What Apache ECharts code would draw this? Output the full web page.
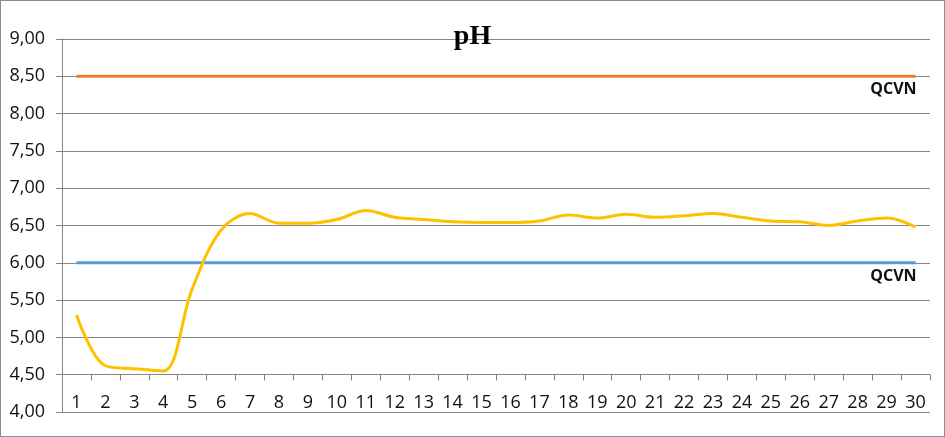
<!DOCTYPE html>
<html>
<head>
<meta charset="utf-8">
<script src="https://cdn.jsdelivr.net/npm/echarts@6/dist/echarts.min.js"></script>
<style>
html,body{margin:0;padding:0;background:#fff;}
#chart{width:945px;height:437px;box-sizing:border-box;border:1px solid #8c8c8c;}
</style>
</head>
<body>
<div id="chart"></div>
<script>
const categories = [1,2,3,4,5,6,7,8,9,10,11,12,13,14,15,16,17,18,19,20,21,22,23,24,25,26,27,28,29,30].map(String);
const phValues = [5.30,4.62,4.58,4.55,5.65,6.44,6.66,6.53,6.53,6.58,6.70,6.61,6.58,6.55,6.54,6.54,6.56,6.64,6.60,6.65,6.61,6.63,6.66,6.61,6.56,6.55,6.50,6.56,6.60,6.48];
const qcvnUpper = categories.map(() => 8.5);
const qcvnLower = categories.map(() => 6.0);
const limitLabel = 'QCVN';
const titleText = 'pH';

function withEndLabel(arr) {
  return arr.map((v, i) => i === arr.length - 1 ? {
    value: v,
    symbolSize: 1,
    label: {
      show: true, formatter: limitLabel, position: 'bottom', align: 'right',
      distance: 5, offset: [1, 0], fontFamily: 'Open Sans', fontWeight: 'bold', fontSize: 16, color: '#111'
    }
  } : v);
}

const chart = echarts.init(document.getElementById('chart'));
chart.setOption({
  animation: false,
  title: {
    text: titleText, left: 'center', top: 17,
    textStyle: {fontFamily: 'Liberation Serif', fontWeight: 'bold', fontSize: 28, color: '#000'}
  },
  grid: {left: 61, right: 14, top: 38, bottom: 24, containLabel: false},
  xAxis: {
    type: 'category', data: categories, boundaryGap: true, offset: -37.5,
    axisLine: {show: true, onZero: false, lineStyle: {color: '#868686', width: 1}},
    axisTick: {show: true, length: 6, lineStyle: {color: '#868686'}},
    axisLabel: {fontFamily: 'Open Sans', fontSize: 18, color: '#111', margin: 19, interval: 0},
    splitLine: {show: false}
  },
  yAxis: {
    type: 'value', min: 4, max: 9, interval: 0.5,
    axisLine: {show: true, lineStyle: {color: '#868686', width: 1}},
    axisTick: {show: true, length: 6, lineStyle: {color: '#868686'}},
    axisLabel: {
      fontFamily: 'Open Sans', fontSize: 18, color: '#111', margin: 17,
      formatter: v => v.toFixed(2).replace('.', ',')
    },
    splitLine: {show: true, lineStyle: {color: '#868686', width: 1}}
  },
  series: [
    {
      type: 'line', data: withEndLabel(qcvnUpper), symbol: 'circle', symbolSize: 0, showSymbol: true,
      itemStyle: {color: '#ED7D31'}, lineStyle: {color: '#ED7D31', width: 3}, silent: true, z: 3
    },
    {
      type: 'line', data: withEndLabel(qcvnLower), symbol: 'circle', symbolSize: 0, showSymbol: true,
      itemStyle: {color: '#5B9BD5'}, lineStyle: {color: '#5B9BD5', width: 3}, silent: true, z: 3
    },
    {
      type: 'line', data: phValues, smooth: 0.35, symbol: 'none',
      lineStyle: {color: '#FFC000', width: 3}, z: 4
    }
  ]
});
</script>
</body>
</html>
